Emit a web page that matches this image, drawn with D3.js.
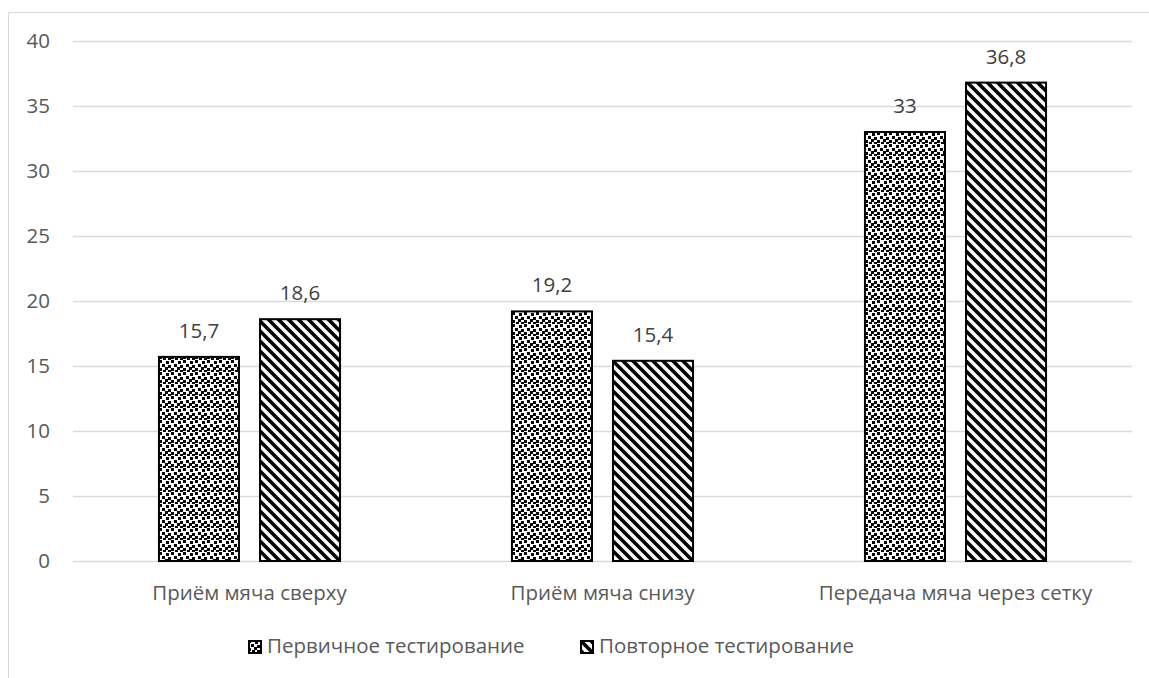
<!DOCTYPE html>
<html>
<head>
<meta charset="utf-8">
<script src="https://cdn.jsdelivr.net/npm/d3@7"></script>
<style>
  body { margin: 0; background: #fff; }
  svg { display: block; font-family: "Open Sans", sans-serif; }
</style>
</head>
<body>
<svg id="chart" width="1149" height="678"></svg>
<script>
// data
const categories = ["Приём мяча сверху", "Приём мяча снизу", "Передача мяча через сетку"];
const seriesNames = ["Первичное тестирование", "Повторное тестирование"];
const primary = [15.7, 19.2, 33];
const repeat = [18.6, 15.4, 36.8];
const yTicks = [0, 5, 10, 15, 20, 25, 30, 35, 40];

const values = [primary, repeat];
const svg = d3.select("#chart");
const fontSize = 20.5;

// chart area frame (only left and top are visible)
svg.append("path")
  .attr("d", "M8.5,678 V12.5 H1149")
  .attr("fill", "none")
  .attr("stroke", "#d9d9d9");

// fill patterns
const defs = svg.append("defs");
const confetti = defs.append("pattern")
  .attr("id", "confetti")
  .attr("patternUnits", "userSpaceOnUse")
  .attr("width", 12).attr("height", 12);
confetti.append("rect").attr("width", 12).attr("height", 12).attr("fill", "#fff");
[[0, 0], [7, 1], [3, 4], [9, 5], [0, 8], [6, 7], [4, 10], [9, 10]].forEach(p => {
  confetti.append("rect")
    .attr("x", p[0]).attr("y", p[1])
    .attr("width", 3).attr("height", 3)
    .attr("fill", "#000");
});

const stripes = defs.append("pattern")
  .attr("id", "stripes")
  .attr("patternUnits", "userSpaceOnUse")
  .attr("width", 10).attr("height", 10);
stripes.append("rect").attr("width", 10).attr("height", 10).attr("fill", "#fff");
stripes.append("path")
  .attr("d", "M-2,-2 L12,12 M-2,8 L2,12 M8,-2 L12,2")
  .attr("stroke", "#000")
  .attr("stroke-width", 3.6);

const fills = ["url(#confetti)", "url(#stripes)"];

// scales
const x0 = d3.scaleBand().domain(categories).range([73, 1132])
  .paddingInner(0.487).paddingOuter(0.2435);
const x1 = d3.scaleBand().domain([0, 1]).range([0, x0.bandwidth()]).paddingInner(0.208);
const y = d3.scaleLinear().domain([0, 40]).range([561, 41]);

// gridlines
svg.append("g").selectAll("line").data(yTicks).enter().append("line")
  .attr("x1", 73).attr("x2", 1132)
  .attr("y1", d => y(d) + 0.5).attr("y2", d => y(d) + 0.5)
  .attr("stroke", "#d9d9d9")
  .attr("stroke-width", 1.5);

// y tick labels
svg.append("g").selectAll("text").data(yTicks).enter().append("text")
  .attr("x", 50)
  .attr("y", d => y(d) + 7)
  .attr("text-anchor", "end")
  .attr("font-size", fontSize)
  .attr("fill", "#595959")
  .text(d => d);

// bars
const groups = svg.append("g").selectAll("g").data(categories).enter().append("g")
  .attr("transform", d => `translate(${x0(d)},0)`);

groups.selectAll("rect")
  .data((d, i) => values.map((s, k) => ({ k: k, v: s[i] })))
  .enter().append("rect")
  .attr("x", d => x1(d.k))
  .attr("y", d => y(d.v))
  .attr("width", x1.bandwidth())
  .attr("height", d => y(0) - y(d.v))
  .attr("fill", d => fills[d.k])
  .attr("stroke", "#000")
  .attr("stroke-width", 2);

// data labels
groups.selectAll("text")
  .data((d, i) => values.map((s, k) => ({ k: k, v: s[i] })))
  .enter().append("text")
  .attr("x", d => x1(d.k) + x1.bandwidth() / 2)
  .attr("y", d => y(d.v) - 19)
  .attr("text-anchor", "middle")
  .attr("font-size", fontSize)
  .attr("fill", "#404040")
  .text(d => String(d.v).replace(".", ","));

// category labels
svg.append("g").selectAll("text").data(categories).enter().append("text")
  .attr("x", d => x0(d) + x0.bandwidth() / 2)
  .attr("y", 600)
  .attr("text-anchor", "middle")
  .attr("font-size", fontSize)
  .attr("fill", "#595959")
  .text(d => d);

// legend
const legendX = [248, 580];
const legend = svg.append("g").selectAll("g").data(seriesNames).enter().append("g")
  .attr("transform", (d, i) => `translate(${legendX[i]},640)`);
legend.append("rect")
  .attr("x", 1).attr("y", 1)
  .attr("width", 12).attr("height", 12)
  .attr("fill", (d, i) => fills[i])
  .attr("stroke", "#000")
  .attr("stroke-width", 2);
legend.append("text")
  .attr("x", 19)
  .attr("y", 13)
  .attr("font-size", fontSize)
  .attr("fill", "#595959")
  .text(d => d);
</script>
</body>
</html>
